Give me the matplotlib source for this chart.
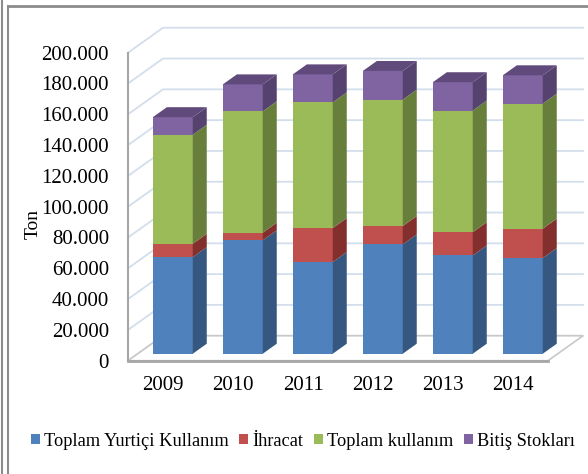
import matplotlib.pyplot as plt
import numpy as np
from matplotlib.patches import Polygon, Patch
from matplotlib.lines import Line2D

plt.rcParams['font.family'] = ['Liberation Serif', 'DejaVu Serif']

# data (ton)
years = ['2009', '2010', '2011', '2012', '2013', '2014']
yurtici = [62700, 73600, 59500, 71000, 63800, 62100]
ihracat = [8700, 5000, 22100, 11900, 15100, 19100]
toplam_kullanim = [70800, 78800, 81600, 82100, 79000, 81200]
bitis_stoklari = [11400, 17500, 18200, 18600, 18400, 18400]
series = [yurtici, ihracat, toplam_kullanim, bitis_stoklari]
names = ['Toplam Yurtiçi Kullanım', 'İhracat', 'Toplam kullanım', 'Bitiş Stokları']
ticks = np.arange(0, 200001, 20000)
tick_labels = ['{:,}'.format(t).replace(',', '.') for t in ticks]

front = ['#4F81BD', '#C0504D', '#9BBB59', '#8064A2']
side = ['#36577F', '#822F2D', '#687F3B', '#56426E']
top_col = '#604A7B'

# oblique projection: one unit of depth moves x by DX categories and y by DY tons
DX, DY = 0.5, 16200
bar_d0, bar_depth = 0.28, 0.4
width = 0.57

fig = plt.figure(figsize=(5.88, 4.74), dpi=100)
ax = fig.add_axes([0, 0, 1, 1])
ax.set_xlim(-163 / 70, (588 - 163) / 70)
ax.set_ylim(-(474 - 360.7) / 1.54 * 1000, 360.7 / 1.54 * 1000)
ax.axis('off')

grid_c = '#D3DEEC'
n = len(years)
x_left, x_right = -0.5, n - 0.5

# walls: gridlines on left wall and back wall
for t in ticks:
    ax.plot([x_left, x_left + DX, x_right + DX], [t, t + DY, t + DY],
            color=grid_c, lw=1.3, zorder=1)

# floor
floor = Polygon([(x_left, 0), (x_right, 0), (x_right + DX, DY), (x_left + DX, DY)],
                closed=True, facecolor='white', edgecolor='#C8C8C8', lw=1.2, zorder=2)
ax.add_patch(floor)
ax.plot([x_left, x_right], [0, 0], color='#A6A6A6', lw=2, zorder=2)
ax.plot([x_left, x_left], [0, ticks[-1]], color='#A6A6A6', lw=1.5, zorder=2)

# bars
x = np.arange(n)
ox, oy = bar_d0 * DX, bar_d0 * DY
ddx, ddy = bar_depth * DX, bar_depth * DY
bottom = np.zeros(n)
for k, vals in enumerate(series):
    vals = np.array(vals)
    ax.bar(x + ox, vals, width, bottom=bottom + oy, color=front[k], zorder=3)
    for i in range(n):
        r = x[i] + ox + width / 2
        b = bottom[i] + oy
        t = b + vals[i]
        ax.add_patch(Polygon([(r, b), (r + ddx, b + ddy), (r + ddx, t + ddy), (r, t)],
                             closed=True, facecolor=side[k], lw=0, zorder=3))
    bottom += vals

for i in range(n):
    l = x[i] + ox - width / 2
    r = l + width
    t = bottom[i] + oy
    ax.add_patch(Polygon([(l, t), (r, t), (r + ddx, t + ddy), (l + ddx, t + ddy)],
                         closed=True, facecolor=top_col, lw=0, zorder=3))

# tick labels
for t, lab in zip(ticks, tick_labels):
    ax.text(-0.77, t, lab, ha='right', va='center_baseline', fontsize=15)
for i, yr in enumerate(years):
    ax.text(x[i], -14500, yr, ha='center', va='center_baseline', fontsize=15)
ax.text(-1.85, 89000, 'Ton', rotation=90, ha='center', va='center', fontsize=14)

handles = [Patch(facecolor=c) for c in front]
fig.legend(handles, names, loc='center', bbox_to_anchor=(0.515, 1 - 441 / 474), ncol=4,
           frameon=False, fontsize=13.2, handlelength=0.5, handleheight=0.5,
           handletextpad=0.2, columnspacing=0.6, borderaxespad=0)

# outer frame
fc = '#8C8C8C'
fig.add_artist(Line2D([2 / 588, 2 / 588], [0, 1], color=fc, lw=1.5))
fig.add_artist(Line2D([8 / 588, 8 / 588], [0, 1 - 6 / 474], color=fc, lw=1.5))
fig.add_artist(Line2D([8 / 588, 1], [1 - 6 / 474, 1 - 6 / 474], color=fc, lw=2))

plt.savefig('out.png', dpi=100)
